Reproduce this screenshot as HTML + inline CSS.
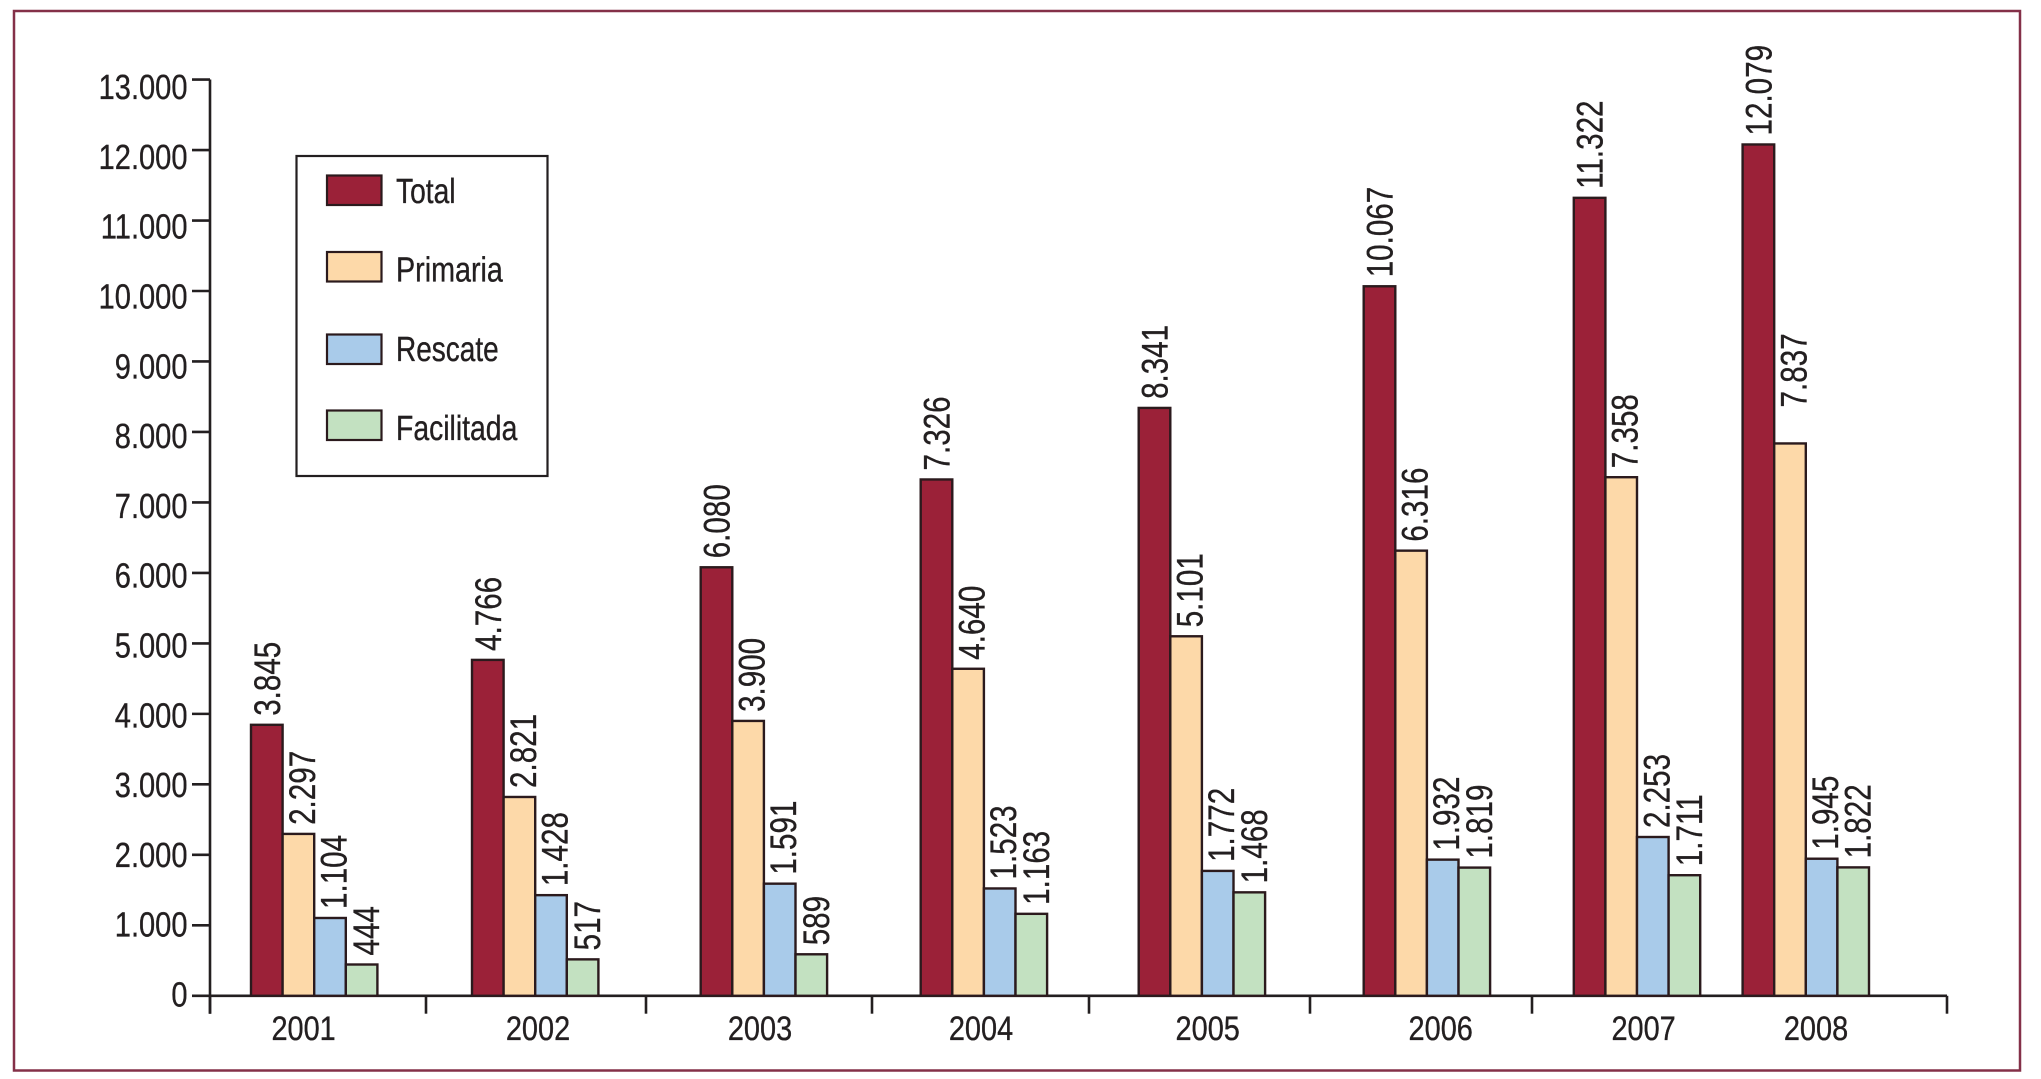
<!DOCTYPE html>
<html lang="es">
<head>
<meta charset="utf-8">
<title>Gráfico de barras 2001-2008</title>
<style>
html,body{margin:0;padding:0;background:#fff;width:2041px;height:1079px;overflow:hidden}
svg{display:block}
text{font-family:"Liberation Sans",Arial,sans-serif;fill:#231f20;stroke:#231f20;stroke-width:.35px;text-rendering:geometricPrecision}
</style>
</head>
<body>
<svg id="chart" width="2041" height="1079" viewBox="0 0 2041 1079" xmlns="http://www.w3.org/2000/svg">
  <rect x="14" y="11" width="2006" height="1059.5" fill="#fff" stroke="#843048" stroke-width="2.5"/>
  <g id="axes"></g>
  <g id="bars"></g>
  <g id="value-labels"></g>
  <g>
    <rect x="296.5" y="156" width="251" height="320" fill="#fff" stroke="#231f20" stroke-width="2.2"/>
    <rect x="327" y="175.5" width="54.5" height="29.5" fill="#9b2138" stroke="#2b1a1d" stroke-width="2.2"/>
    <text font-size="35" transform="translate(396 203) scale(.805 1)">Total</text>
    <rect x="327" y="252" width="54.5" height="29.5" fill="#fdd9a9" stroke="#2b1a1d" stroke-width="2.2"/>
    <text font-size="35" transform="translate(396 281.5) scale(.82 1)">Primaria</text>
    <rect x="327" y="334.5" width="54.5" height="29.5" fill="#a9cbea" stroke="#2b1a1d" stroke-width="2.2"/>
    <text font-size="35" transform="translate(396 361) scale(.8 1)">Rescate</text>
    <rect x="327" y="410.5" width="54.5" height="29.5" fill="#c3e1c1" stroke="#2b1a1d" stroke-width="2.2"/>
    <text font-size="35" transform="translate(396 440) scale(.81 1)">Facilitada</text>
  </g>
</svg>
<script>
const categories = ['2001','2002','2003','2004','2005','2006','2007','2008'];
const total      = [3845,4766,6080,7326,8341,10067,11322,12079];
const primaria   = [2297,2821,3900,4640,5101,6316,7358,7837];
const rescate    = [1104,1428,1591,1523,1772,1932,2253,1945];
const facilitada = [444,517,589,1163,1468,1819,1711,1822];
const yTickValues = [0,1000,2000,3000,4000,5000,6000,7000,8000,9000,10000,11000,12000,13000];
const yTickLabels = ['0','1.000','2.000','3.000','4.000','5.000','6.000','7.000','8.000','9.000','10.000','11.000','12.000','13.000'];

const SVG_NS = 'http://www.w3.org/2000/svg';
const INK = '#231f20';
const BAR_INK = '#2b1a1d';

// Axis functions: the published figure spaces its categories unevenly, so the
// category axis is an ordinal scale with an explicit range.
const Y0 = 995.8, PX_PER_UNIT = 0.07048;
function yScale(v){ return Y0 - v * PX_PER_UNIT; }
function yLabelScale(v){ return 1006.5 - v * 0.0698; }
const xRangeLeft = [251,472,700.7,920.7,1138.7,1363.7,1573.8,1742.6];
const xRangeLabel = [303.6,538,760,981,1207.7,1440.7,1643.6,1816];
const xBoundaries = [210,426,646,872,1089,1310,1532,1947];
function xGroup(i){ return xRangeLeft[i]; }
function xLabel(i){ return xRangeLabel[i]; }

const BAR_W = 31.6;
const LABEL_GAP = 9;
const seriesList = [
  {key:'total',      values:total,      color:'#9b2138', labelShift:0,   liftYear:null, lift:0},
  {key:'primaria',   values:primaria,   color:'#fdd9a9', labelShift:3.5, liftYear:'2008', lift:27},
  {key:'rescate',    values:rescate,    color:'#a9cbea', labelShift:3.5, liftYear:null, lift:0},
  {key:'facilitada', values:facilitada, color:'#c3e1c1', labelShift:4.5, liftYear:null, lift:0}
];

function fmt(v){ return String(v).replace(/\B(?=(\d{3})+$)/g,'.'); }
function make(tag, attrs, parent){
  const el = document.createElementNS(SVG_NS, tag);
  for (const k in attrs) el.setAttribute(k, attrs[k]);
  parent.appendChild(el);
  return el;
}

const axes = document.getElementById('axes');
const barsG = document.getElementById('bars');
const labelsG = document.getElementById('value-labels');

// y axis line
const yLine = make('line',{x1:210,x2:210,y1:yScale(13000),y2:1013.7,stroke:INK,'stroke-width':2.6},axes);



// y ticks and labels
yTickValues.forEach(function(v,i){
  const t = make('line',{x1:192,x2:210,y1:yScale(v),y2:yScale(v),stroke:INK,'stroke-width':2.6},axes);
  
  
  const l = make('text',{'font-size':35,'text-anchor':'end',transform:'translate(187.5 '+yLabelScale(v)+') scale(.83 1)'},axes);
  
  
  l.textContent = yTickLabels[i];
});

// x axis line
const xLine = make('line',{x1:210,x2:1947,y1:Y0,y2:Y0,stroke:INK,'stroke-width':2.6},axes);



// x ticks
xBoundaries.forEach(function(x){
  const t = make('line',{x1:x,x2:x,y1:Y0,y2:1013.7,stroke:INK,'stroke-width':2.6},axes);
  
  
});

// x labels
categories.forEach(function(c,i){
  const l = make('text',{'font-size':34,'text-anchor':'middle',transform:'translate('+xLabel(i)+' 1040) scale(.85 1)'},axes);
  
  
  l.textContent = c;
});

// bars and value labels
seriesList.forEach(function(s,si){
  s.values.forEach(function(v,i){
    const x = xGroup(i) + si * BAR_W;
    const top = yScale(v);
    const r = make('rect',{x:x,y:top,width:BAR_W,height:Y0-top,fill:s.color,stroke:BAR_INK,'stroke-width':2.4},barsG);
    
    
    const bx = x + BAR_W/2 + s.labelShift + 13;
    const lift = (s.liftYear === categories[i]) ? s.lift : 0;
    const t = make('text',{'font-size':37,transform:'translate('+bx+' '+(top-LABEL_GAP-lift)+') rotate(-90) scale(.8 1)'},labelsG);
    
    
    t.textContent = fmt(v);
  });
});
</script>
</body>
</html>
